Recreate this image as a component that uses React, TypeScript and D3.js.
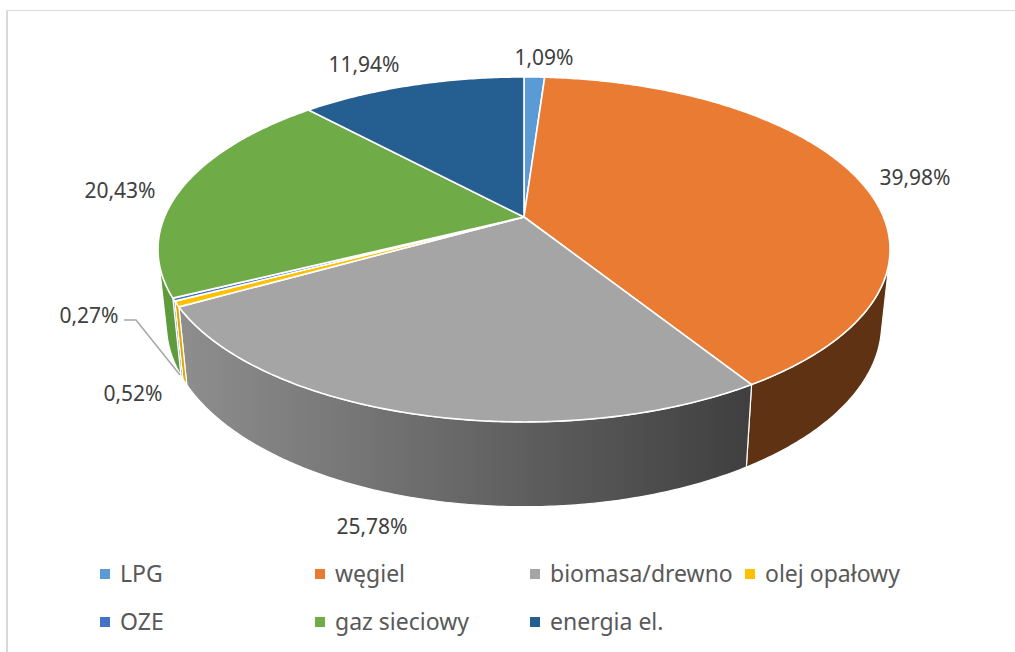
import React from "react";
import * as d3 from "d3";

const categories = ["LPG", "węgiel", "biomasa/drewno", "olej opałowy", "OZE", "gaz sieciowy", "energia el."];
const shares = [1.09, 39.98, 25.78, 0.52, 0.27, 20.43, 11.94];
const shareLabels = ["1,09%", "39,98%", "25,78%", "0,52%", "0,27%", "20,43%", "11,94%"];
const colors = ["#5b9bd5", "#ea7b32", "#a5a5a5", "#ffc000", "#4472c4", "#6fab47", "#255e91"];
const wallLeft = ["#3d6b94", "#5f3214", "#8e8e8e", "#e0a800", "#2f5597", "#5e9b3c", "#1a4166"];
const wallRight = ["#3d6b94", "#5f3214", "#404040", "#e0a800", "#2f5597", "#5e9b3c", "#1a4166"];

// label centres, same order as categories
const labelX = [544, 915, 372, 133, 89, 120, 364];
const labelY = [57, 177, 526, 393, 315, 190, 64];

// pie apex and perspective of the tilted disc
const cx = 524;
const cy = 217;
const A = 359.5;
const B = 166.4;
const K = 0.188;
// lower rim of the extrusion
const shrinkX = 0.977;
const stretchY = 1.06;
const drop = 72.5;

const top = (t: number): [number, number] => {
  const u = Math.sin(t);
  const v = -Math.cos(t);
  const w = 1 - K * v;
  return [cx + (A * u) / w, cy + (B * v) / w];
};
const bottom = (t: number): [number, number] => {
  const [x, y] = top(t);
  return [cx + (x - cx) * shrinkX, cy + drop + (y - cy) * stretchY];
};

const line = d3.line();
const arcs = d3.pie<number>().sort(null).value((d) => d)(shares);

const samples = (a0: number, a1: number) => {
  const n = Math.max(2, Math.ceil((a1 - a0) / 0.01));
  return d3.range(n + 1).map((i) => a0 + ((a1 - a0) * i) / n);
};

const facesViewer = (t: number) => {
  const p = top(t);
  const q = top(t + 0.001);
  const d = bottom(t);
  return (q[0] - p[0]) * (d[1] - p[1]) - (q[1] - p[1]) * (d[0] - p[0]) < 0;
};

const slicePath = (a0: number, a1: number) =>
  line([[cx, cy], ...samples(a0, a1).map(top)]) + "Z";

const wallPath = (a0: number, a1: number) => {
  const ts = samples(a0, a1).filter(facesViewer);
  if (ts.length < 2) return null;
  return line([...ts.map(top), ...ts.slice().reverse().map(bottom)]) + "Z";
};

const legendCols = [100, 315, 530, 745];
const legendRows = [574, 622];
const legendSlots = [
  [0, 0], [1, 0], [2, 0], [3, 0],
  [0, 1], [1, 1], [2, 1],
];

const App = () => {
  const font = "'Noto Sans', 'Open Sans', sans-serif";
  return (
    <svg
      width={1015}
      height={652}
      style={{ position: "absolute", left: 0, top: 0, background: "#fff" }}
    >
      <defs>
        {arcs.map((a, i) => (
          <linearGradient
            key={i}
            id={`wall${i}`}
            gradientUnits="userSpaceOnUse"
            x1={180}
            x2={745}
            y1={0}
            y2={0}
          >
            <stop offset="0" stopColor={wallLeft[i]} />
            <stop offset="1" stopColor={wallRight[i]} />
          </linearGradient>
        ))}
      </defs>

      <path d="M7 652V10.5H1015" fill="none" stroke="#d9d9d9" strokeWidth={1} />
      <path d="M7 652V11" fill="none" stroke="#d9d9d9" strokeWidth={2} />

      {arcs.map((a, i) => {
        const d = wallPath(a.startAngle, a.endAngle);
        return d ? (
          <path key={i} d={d} fill={`url(#wall${i})`} stroke="#fff" strokeWidth={1.2} strokeLinejoin="round" />
        ) : null;
      })}
      {arcs.map((a, i) => (
        <path
          key={i}
          d={slicePath(a.startAngle, a.endAngle)}
          fill={colors[i]}
          stroke="#fff"
          strokeWidth={1.6}
          strokeLinejoin="round"
        />
      ))}

      <polyline points="124,320 136,320 180,375" fill="none" stroke="#a6a6a6" strokeWidth={1.5} />

      {shareLabels.map((s, i) => (
        <text
          key={i}
          x={labelX[i]}
          y={labelY[i]}
          textAnchor="middle"
          dominantBaseline="central"
          fontFamily={font}
          fontSize={21}
          fill="#404040"
        >
          {s}
        </text>
      ))}

      {categories.map((c, i) => {
        const [col, row] = legendSlots[i];
        return (
          <g key={c}>
            <rect x={legendCols[col]} y={legendRows[row] - 5} width={10} height={10} fill={colors[i]} />
            <text
              x={legendCols[col] + 20}
              y={legendRows[row] + 8}
              fontFamily={font}
              fontSize={23}
              fill="#595959"
            >
              {c}
            </text>
          </g>
        );
      })}
    </svg>
  );
};

export default App;
